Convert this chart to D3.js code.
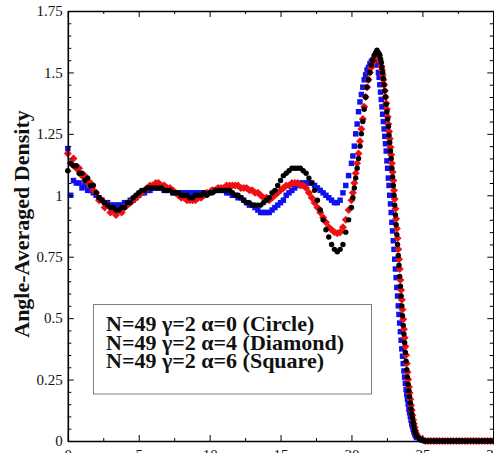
<!DOCTYPE html>
<html><head><meta charset="utf-8">
<script src="https://cdn.jsdelivr.net/npm/d3@7"></script>
<style>body{margin:0;background:#fff}svg{display:block}</style>
</head><body><svg id="c" width="494" height="453"></svg>
<script>
// ---------- data ----------
const xTicks = [0, 5, 10, 15, 20, 25, 30];
const xTickLabels = ["0", "5", "10", "15", "20", "25", "30"];
const yTicks = [0, 0.25, 0.5, 0.75, 1, 1.25, 1.5, 1.75];
const yTickLabels = ["0", "0.25", "0.5", "0.75", "1", "1.25", "1.5", "1.75"];
const yTitle = "Angle-Averaged Density";
const legendLabels = ["N=49 \u03b3=2 \u03b1=0 (Circle)", "N=49 \u03b3=2 \u03b1=4 (Diamond)", "N=49 \u03b3=2 \u03b1=6 (Square)"];

// sample positions (r): 0..20 step 0.2, 20.1..21.9 step 0.1, 21.95..24.6 step 0.05, 24.8..30 step 0.2
const rSeg1 = d3.range(0, 20.01, 0.2);
const rSeg2 = d3.range(20.1, 21.91, 0.1);
const rSeg3 = d3.range(21.95, 24.61, 0.05);
const rSeg4 = d3.range(24.8, 30.01, 0.2);

// alpha = 0 (circle, black)
const circle1 = [
  1.10,1.13,1.12,1.12,1.09,1.09,1.06,1.07,1.04,1.04,
  1.01,0.99,0.98,0.97,0.96,0.95,0.95,0.94,0.94,0.95,
  0.95,0.97,0.97,0.99,1.00,1.01,1.02,1.02,1.03,1.03,
  1.03,1.03,1.03,1.03,1.02,1.02,1.02,1.01,1.01,1.01,
  1.00,1.00,1.00,0.99,0.99,1.00,1.00,1.00,1.01,1.00,
  1.01,1.01,1.02,1.02,1.02,1.02,1.02,1.02,1.01,1.00,
  1.00,0.99,0.98,0.97,0.97,0.96,0.96,0.96,0.96,0.97,
  0.98,0.99,1.01,1.02,1.04,1.06,1.08,1.09,1.10,1.11,
  1.11,1.11,1.11,1.10,1.09,1.07,1.05,1.02,0.98,0.94,
  0.90,0.86,0.83,0.80,0.78,0.77,0.78,0.80,0.85,0.90,
  0.95];
const circle2 = [0.99,1.03,1.07,1.11,1.15,1.20,1.25,1.30,1.35,1.40,1.44,1.47,1.50,1.53,1.55,1.57,1.58,1.59,1.58];
const circle3 = [
  1.575,1.57,1.555,1.54,1.52,1.50,1.475,1.45,1.425,1.40,
  1.37,1.34,1.31,1.28,1.245,1.215,1.18,1.15,1.11,1.075,
  1.04,1.00,0.96,0.92,0.88,0.84,0.80,0.755,0.715,0.67,
  0.63,0.59,0.55,0.51,0.47,0.435,0.40,0.36,0.325,0.29,
  0.26,0.23,0.205,0.18,0.155,0.13,0.11,0.095,0.075,0.06,
  0.045,0.035,0.027,0.02];
const circle4 = [0.01,0.004,0,0,0,0,0,0,0,0,0,0,0,0,0,0,0,0,0,0,0,0,0,0,0,0,0];

// alpha = 4 (diamond, red)
const diamond1 = [
  1.17,1.13,1.15,1.11,1.11,1.08,1.08,1.05,1.05,1.02,
  1.01,0.98,0.98,0.95,0.96,0.93,0.94,0.92,0.94,0.93,
  0.95,0.96,0.97,0.98,0.99,1.00,1.01,1.02,1.03,1.04,
  1.04,1.05,1.05,1.04,1.04,1.03,1.03,1.02,1.01,1.00,
  0.99,0.99,0.98,0.98,0.98,0.98,0.99,0.99,1.00,1.01,
  1.01,1.02,1.02,1.03,1.03,1.03,1.04,1.04,1.04,1.04,
  1.04,1.03,1.03,1.03,1.02,1.02,1.01,1.01,1.00,0.99,
  0.99,0.98,0.99,1.00,1.01,1.02,1.03,1.04,1.04,1.05,
  1.05,1.05,1.04,1.04,1.03,1.01,0.99,0.97,0.95,0.93,
  0.91,0.89,0.87,0.86,0.85,0.845,0.85,0.87,0.90,0.94,
  0.98];
const diamond2 = [1.01,1.05,1.09,1.13,1.17,1.22,1.27,1.31,1.36,1.40,1.44,1.47,1.50,1.52,1.54,1.56,1.57,1.57,1.56];
const diamond3 = [
  1.555,1.55,1.54,1.525,1.51,1.49,1.47,1.45,1.425,1.40,
  1.375,1.35,1.32,1.29,1.26,1.23,1.195,1.165,1.13,1.095,
  1.06,1.02,0.985,0.945,0.905,0.865,0.825,0.78,0.74,0.70,
  0.655,0.615,0.575,0.535,0.495,0.455,0.42,0.385,0.35,0.315,
  0.28,0.25,0.22,0.195,0.17,0.145,0.125,0.105,0.085,0.07,
  0.055,0.042,0.032,0.024];
const diamond4 = [0.012,0.005,0,0,0,0,0,0,0,0,0,0,0,0,0,0,0,0,0,0,0,0,0,0,0,0,0];

// alpha = 6 (square, blue)
const square1 = [
  1.19,1.00,1.06,1.05,1.05,1.03,1.04,1.02,1.02,1.01,
  1.00,0.99,0.98,0.97,0.97,0.96,0.96,0.96,0.96,0.96,
  0.97,0.97,0.98,0.98,0.99,1.00,1.01,1.01,1.02,1.02,
  1.03,1.03,1.03,1.03,1.02,1.02,1.02,1.01,1.01,1.01,
  1.01,1.01,1.01,1.01,1.01,1.01,1.01,1.01,1.01,1.01,
  1.01,1.02,1.02,1.02,1.02,1.02,1.01,1.01,1.00,1.00,
  0.99,0.99,0.98,0.97,0.96,0.96,0.95,0.94,0.93,0.93,
  0.93,0.93,0.94,0.95,0.96,0.97,0.98,1.00,1.01,1.02,
  1.03,1.04,1.05,1.05,1.05,1.05,1.05,1.04,1.03,1.02,
  1.01,1.00,0.99,0.98,0.97,0.97,0.98,1.01,1.04,1.08,
  1.13];
const square2 = [1.16,1.20,1.25,1.29,1.34,1.38,1.41,1.44,1.47,1.49,1.51,1.52,1.535,1.545,1.55,1.555,1.55,1.53,1.50];
const square3 = [
  1.48,1.45,1.42,1.39,1.36,1.33,1.30,1.27,1.24,1.21,
  1.18,1.14,1.11,1.07,1.04,1.00,0.965,0.93,0.89,0.855,
  0.815,0.78,0.74,0.70,0.665,0.625,0.59,0.55,0.515,0.48,
  0.445,0.41,0.375,0.345,0.315,0.285,0.26,0.235,0.21,0.19,
  0.17,0.15,0.13,0.115,0.10,0.085,0.07,0.06,0.048,0.038,
  0.03,0.024,0.018,0.014];
const square4 = [0.008,0.003,0,0,0,0,0,0,0,0,0,0,0,0,0,0,0,0,0,0,0,0,0,0,0,0,0];

// ---------- build ----------
const rAll = [].concat(rSeg1, rSeg2, rSeg3, rSeg4);
function pts(vals){ const n=Math.min(vals.length, rAll.length); return d3.range(n).map(i=>({x:rAll[i], y:vals[i]})); }
const series = [
  {key:"square", color:"#1010f0", values:[].concat(square1,square2,square3,square4)},
  {key:"diamond", color:"#ee1010", values:[].concat(diamond1,diamond2,diamond3,diamond4)},
  {key:"circle", color:"#000000", values:[].concat(circle1,circle2,circle3,circle4)}
];

const svg = d3.select("#c");
const x = d3.scaleLinear().domain([0, 30]).range([67.8, 493.3]);
const y = d3.scaleLinear().domain([0, 1.75]).range([441, 11]);
const font = "'Liberation Serif','Times New Roman',serif";

// markers
const symSquare = d3.symbol().type(d3.symbolSquare).size(30)();
const symDiamond = d3.symbol().type(d3.symbolSquare).size(32)();
const symCircle = d3.symbol().type(d3.symbolCircle).size(23)();
series.forEach(s => {
  const g = svg.append("g").attr("class", "series-" + s.key);
  g.selectAll("path").data(pts(s.values)).join("path")
    .attr("d", s.key === "square" ? symSquare : s.key === "diamond" ? symDiamond : symCircle)
    .attr("transform", d => `translate(${x(d.x)},${y(d.y)})` + (s.key === "diamond" ? " rotate(45)" : ""))
    .attr("fill", s.color);
});

// axes
const xMinor = d3.range(2.5, 30, 5);
const yMinor = d3.range(0, 1.7501, 0.05).filter(v => Math.abs(v / 0.25 - Math.round(v / 0.25)) > 1e-6);

function style(g, showDomain) {
  g.selectAll(".domain").attr("stroke", showDomain ? "#000" : "none").attr("stroke-width", 1.6);
  g.selectAll(".tick line").attr("stroke", "#000").attr("stroke-width", 1);
  g.selectAll("text").attr("font-family", font).attr("font-size", 15).attr("fill", "#111");
}
svg.append("g").attr("transform", "translate(0,441)")
  .call(d3.axisBottom(x).tickValues(xMinor).tickFormat("").tickSize(-3).tickSizeOuter(0)).call(g => style(g, false));
svg.append("g").attr("transform", "translate(0,441)")
  .call(d3.axisBottom(x).tickValues(xTicks).tickFormat((d, i) => xTickLabels[i]).tickSize(-6).tickSizeOuter(0).tickPadding(8)).call(g => style(g, true));
svg.append("g").attr("transform", "translate(0,11)")
  .call(d3.axisTop(x).tickValues(xMinor).tickFormat("").tickSize(-3).tickSizeOuter(0)).call(g => style(g, false));
svg.append("g").attr("transform", "translate(0,11)")
  .call(d3.axisTop(x).tickValues(xTicks).tickFormat("").tickSize(-6).tickSizeOuter(0)).call(g => style(g, true));
svg.append("g").attr("transform", "translate(67.8,0)")
  .call(d3.axisLeft(y).tickValues(yMinor).tickFormat("").tickSize(-3.5).tickSizeOuter(0)).call(g => style(g, false));
svg.append("g").attr("transform", "translate(67.8,0)")
  .call(d3.axisLeft(y).tickValues(yTicks).tickFormat((d, i) => yTickLabels[i]).tickSize(-6).tickSizeOuter(0).tickPadding(5)).call(g => style(g, true));
svg.append("g").attr("transform", "translate(493.3,0)")
  .call(d3.axisRight(y).tickValues(yMinor).tickFormat("").tickSize(-3.5).tickSizeOuter(0)).call(g => style(g, false));
svg.append("g").attr("transform", "translate(493.3,0)")
  .call(d3.axisRight(y).tickValues(yTicks).tickFormat("").tickSize(-6).tickSizeOuter(0)).call(g => style(g, true));

// y title
svg.append("text")
  .attr("transform", "translate(29,224) rotate(-90)")
  .attr("text-anchor", "middle")
  .attr("font-family", font).attr("font-weight", "bold").attr("font-size", 22)
  .attr("fill", "#111")
  .text(yTitle);

// legend
const lg = svg.append("g");
lg.append("rect").attr("x", 93.5).attr("y", 304.5).attr("width", 278).attr("height", 89.5)
  .attr("fill", "#fff").attr("stroke", "#808080").attr("stroke-width", 1);
lg.selectAll("text").data(legendLabels).join("text")
  .attr("x", 106).attr("y", (d, i) => 331 + i * 18.5)
  .attr("font-family", font).attr("font-weight", "bold").attr("font-size", 22)
  .attr("fill", "#111")
  .text(d => d);
</script>
</body></html>
